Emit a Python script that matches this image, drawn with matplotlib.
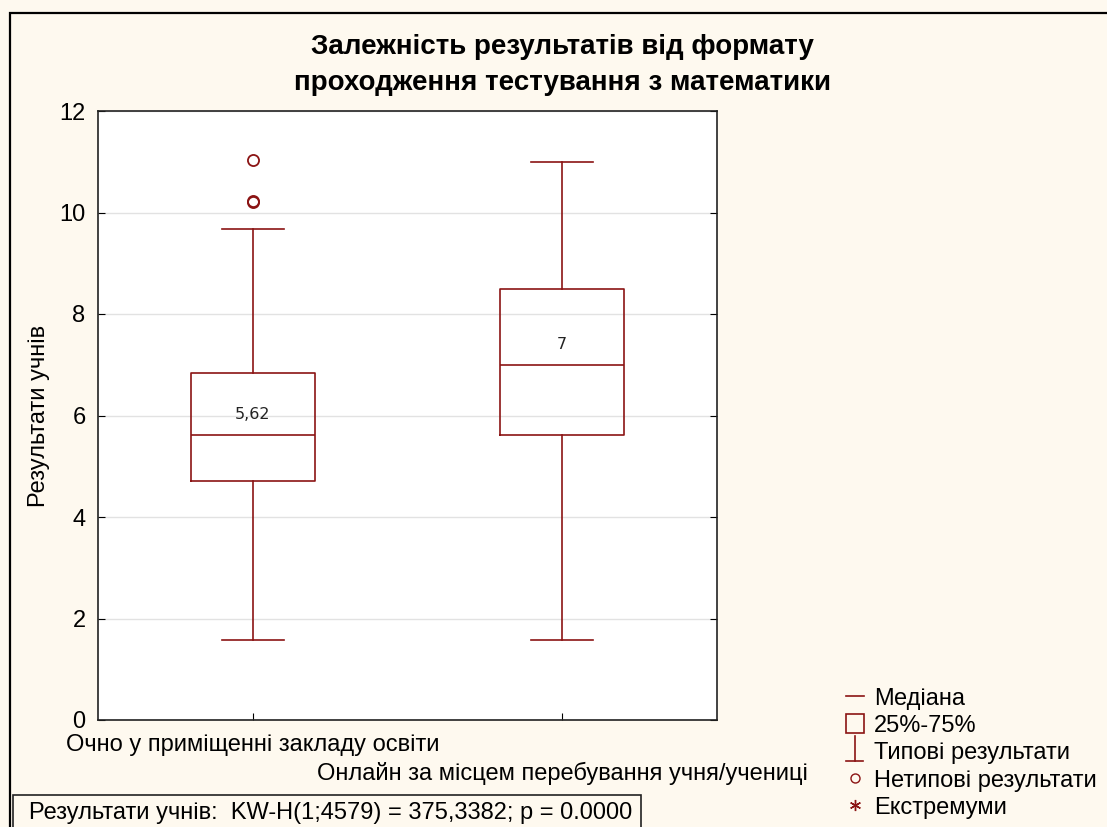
import matplotlib.pyplot as plt
from matplotlib.lines import Line2D
from matplotlib.patches import Patch, Rectangle
from matplotlib.legend_handler import HandlerBase

# box plot summary values
groups = ["Очно у приміщенні закладу освіти",
          "Онлайн за місцем перебування учня/учениці"]
medians = [5.62, 7.0]
q1 = [4.71, 5.62]
q3 = [6.84, 8.49]
whisk_lo = [1.58, 1.58]
whisk_hi = [9.67, 11.0]
fliers = [[10.2, 10.23, 11.03], []]
median_labels = ["5,62", "7"]

title = "Залежність результатів від формату\nпроходження тестування з математики"
ylabel = "Результати учнів"
stat_text = "Результати учнів:  KW-H(1;4579) = 375,3382; p = 0.0000"

RED = "#8b1414"
BG = "#fef9ef"
plt.rcParams['font.family'] = ['Liberation Sans', 'DejaVu Sans']


class WhiskerHandler(HandlerBase):
    def create_artists(self, legend, orig, xd, yd, w, h, fs, trans):
        cx = xd + w / 2
        v = Line2D([cx, cx], [yd - 0.15 * h, yd + 1.15 * h], color=RED, lw=1.2)
        c = Line2D([cx - 0.45 * h, cx + 0.45 * h], [yd - 0.15 * h] * 2, color=RED, lw=1.2)
        v.set_transform(trans)
        c.set_transform(trans)
        return [v, c]


def main():
    fig = plt.figure(figsize=(11.07, 8.27), dpi=100, facecolor=BG)
    ax = fig.add_axes([98 / 1107, 1 - 720 / 827, 619 / 1107, 609 / 827])
    ax.set_facecolor("white")

    stats = []
    for i in range(len(groups)):
        stats.append(dict(med=medians[i], q1=q1[i], q3=q3[i],
                          whislo=whisk_lo[i], whishi=whisk_hi[i],
                          fliers=fliers[i]))
    pos = list(range(1, len(groups) + 1))
    ax.bxp(stats, positions=pos, widths=0.4, capwidths=0.2,
           boxprops=dict(color=RED, lw=1.2),
           medianprops=dict(color=RED, lw=1.2),
           whiskerprops=dict(color=RED, lw=1.2),
           capprops=dict(color=RED, lw=1.2),
           flierprops=dict(marker='o', markerfacecolor='none',
                           markeredgecolor=RED, markersize=8, markeredgewidth=1.3))

    for p, m, lab in zip(pos, medians, median_labels):
        ax.text(p, m + 0.4, lab, ha='center', va='center', fontsize=11.5,
                family='DejaVu Sans', color='#222222')

    ax.set_xlim(0.5, 2.5)
    ax.set_ylim(0, 12)
    ax.set_yticks(range(0, 13, 2))
    ax.set_xticks(pos)
    ax.set_xticklabels(groups, fontsize=17)
    ax.xaxis.get_major_ticks()[0].set_pad(10)
    ax.xaxis.get_major_ticks()[1].set_pad(30)
    ax.tick_params(axis='y', labelsize=17, direction='in', left=True, right=True,
                   pad=9, length=5)
    ax.tick_params(axis='x', direction='in', length=5)
    ax.grid(axis='y', color='#e2e2e2', lw=1)
    ax.set_axisbelow(True)
    for s in ax.spines.values():
        s.set_color('#222222')
        s.set_linewidth(1.2)

    ax.set_ylabel(ylabel, fontsize=17, labelpad=7)
    fig.text(562 / 1107, 1 - 65 / 827, title, ha='center', va='center',
             fontsize=20, fontweight='bold', linespacing=1.45)

    # outer frame and stats box
    fig.patches.append(Rectangle((10 / 1107, -0.1), 1.2, 1.1 - 13 / 827,
                                 transform=fig.transFigure, fill=False,
                                 edgecolor='black', lw=1.6))
    fig.patches.append(Rectangle((13 / 1107, -0.1), 628 / 1107, 0.1 + 32 / 827,
                                 transform=fig.transFigure, facecolor=BG,
                                 edgecolor='#222222', lw=1.2))
    fig.text(29 / 1107, 1 - 813 / 827, stat_text, fontsize=17, va='center')

    handles = [Line2D([], [], color=RED, lw=1.2),
               Patch(facecolor='none', edgecolor=RED, lw=1.2),
               Line2D([], [], color=RED),
               Line2D([], [], ls='none', marker='o', markerfacecolor='none',
                      markeredgecolor=RED, markersize=6.5),
               Line2D([], [], ls='none', marker=(6, 2, 0), color=RED, markersize=8)]
    labels = ["Медіана", "25%-75%", "Типові результати",
              "Нетипові результати", "Екстремуми"]
    fig.legend(handles, labels, loc='upper left',
               bbox_to_anchor=(846 / 1107, 1 - 687 / 827), frameon=False,
               fontsize=17, handlelength=0.75, handleheight=0.85, handletextpad=0.45,
               labelspacing=0.2, borderaxespad=0, borderpad=0,
               handler_map={handles[2]: WhiskerHandler()})

    fig.savefig("out.png", dpi=100, facecolor=BG)


if __name__ == '__main__':
    main()
